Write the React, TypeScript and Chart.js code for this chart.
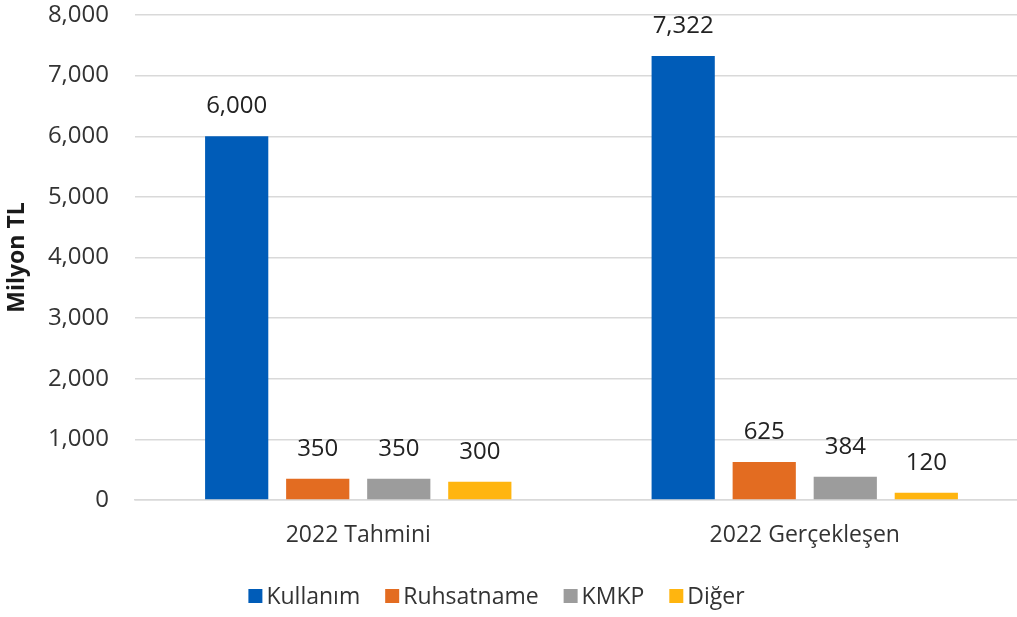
import React, { useEffect, useRef } from "react";
import { Chart, registerables } from "chart.js";

Chart.register(...registerables);

const categories = ["2022 Tahmini", "2022 Gerçekleşen"];
const seriesNames = ["Kullanım", "Ruhsatname", "KMKP", "Diğer"];
const kullanim = [6000, 7322];
const ruhsatname = [350, 625];
const kmkp = [350, 384];
const diger = [300, 120];
const colors = ["#005CB8", "#E36C21", "#9C9C9C", "#FFB50F"];

const FONT = "'Open Sans', 'Liberation Sans', sans-serif";
const fmt = (v: number) => v.toLocaleString("en-US");
const VIEW_W = 1017;

const dataLabelPlugin = {
  id: "dataLabels",
  afterDatasetsDraw(chart: any) {
    const ctx = chart.ctx;
    ctx.save();
    ctx.font = `24px ${FONT}`;
    ctx.fillStyle = "#222222";
    ctx.textAlign = "center";
    ctx.textBaseline = "middle";
    chart.data.datasets.forEach((ds: any, i: number) => {
      const meta = chart.getDatasetMeta(i);
      meta.data.forEach((el: any, j: number) => {
        ctx.fillText(fmt(ds.data[j]), el.x, el.y - 30);
      });
    });
    ctx.restore();
  },
};

const legendPlugin = {
  id: "customLegend",
  afterDraw(chart: any) {
    const ctx = chart.ctx;
    const box = 14;
    const gap = 4;
    const spacing = 25;
    const y = 596;
    ctx.save();
    ctx.font = `23px ${FONT}`;
    ctx.textBaseline = "middle";
    ctx.textAlign = "left";
    const items = chart.data.datasets.map((ds: any) => ({
      label: ds.label,
      color: ds.backgroundColor,
      w: ctx.measureText(ds.label).width,
    }));
    const total =
      items.reduce((a: number, it: any) => a + box + gap + it.w, 0) + spacing * (items.length - 1);
    let x = (VIEW_W - total) / 2 - 12;
    items.forEach((it: any) => {
      ctx.fillStyle = it.color;
      ctx.fillRect(x, y - box / 2, box, box);
      x += box + gap;
      ctx.fillStyle = "#333333";
      ctx.fillText(it.label, x, y + 1);
      x += it.w + spacing;
    });
    ctx.restore();
  },
};

export default function App() {
  const ref = useRef<HTMLCanvasElement>(null);
  useEffect(() => {
    if (!ref.current) return;
    const values = [kullanim, ruhsatname, kmkp, diger];
    const chart = new Chart(ref.current, {
      type: "bar",
      data: {
        labels: categories,
        datasets: seriesNames.map((name, i) => ({
          label: name,
          data: values[i],
          backgroundColor: colors[i],
          barPercentage: 0.78,
          categoryPercentage: 0.726,
        })),
      },
      options: {
        animation: false,
        responsive: false,
        maintainAspectRatio: false,
        layout: { padding: { top: 0, right: 0, left: 4, bottom: 67 } },
        plugins: {
          legend: { display: false },
          tooltip: { enabled: false },
        },
        scales: {
          x: {
            grid: { display: false, drawTicks: false },
            border: { color: "#d9d9d9", width: 1.5 },
            ticks: { font: { family: FONT, size: 23 }, color: "#333333", padding: 22 },
            afterFit: (s: any) => {
              s.height = 50;
            },
          },
          y: {
            min: 0,
            max: 8000,
            ticks: {
              stepSize: 1000,
              font: { family: FONT, size: 24 },
              color: "#333333",
              padding: 26,
              callback: (v: any) => fmt(Number(v)),
            },
            grid: { color: "#d9d9d9", lineWidth: 1.5, drawTicks: false },
            border: { display: false },
            title: {
              display: true,
              text: "Milyon TL",
              font: { family: FONT, size: 23, weight: "bold" },
              color: "#1a1a1a",
              padding: { top: 0, bottom: 2 },
            },
            afterFit: (s: any) => {
              s.width = 131;
              s.paddingTop = 15;
              s.paddingBottom = 15;
            },
          },
        },
      },
      plugins: [dataLabelPlugin, legendPlugin],
    });
    return () => chart.destroy();
  }, []);
  return (
    <div
      style={{
        position: "fixed",
        left: 0,
        top: 0,
        width: VIEW_W,
        height: 617,
        overflow: "hidden",
        background: "#fff",
      }}
    >
      <canvas ref={ref} width={1028} height={617} style={{ display: "block" }} />
    </div>
  );
}
